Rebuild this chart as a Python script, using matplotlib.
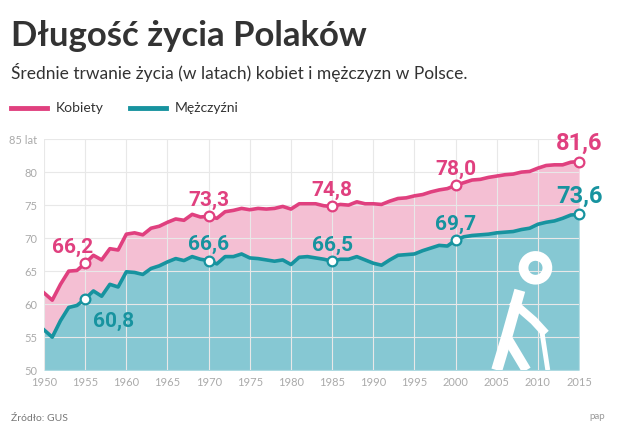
import matplotlib
matplotlib.use("Agg")
import matplotlib.pyplot as plt
from matplotlib.patches import Ellipse

years = list(range(1950, 2016))
women = [61.7, 60.6, 63.0, 65.0, 65.1, 66.2, 67.4, 66.7, 68.4, 68.2,
         70.6, 70.8, 70.5, 71.5, 71.8, 72.4, 72.9, 72.7, 73.6, 73.2,
         73.3, 73.0, 74.0, 74.2, 74.5, 74.3, 74.5, 74.4, 74.5, 74.8,
         74.4, 75.2, 75.2, 75.2, 74.9, 74.8, 75.1, 75.0, 75.5, 75.2,
         75.2, 75.1, 75.6, 76.0, 76.1, 76.4, 76.6, 77.0, 77.3, 77.5,
         78.0, 78.4, 78.8, 78.9, 79.2, 79.4, 79.6, 79.7, 80.0, 80.1,
         80.6, 81.0, 81.1, 81.1, 81.5, 81.6]
men = [56.1, 55.0, 57.5, 59.5, 59.8, 60.8, 62.0, 61.2, 63.0, 62.6,
       64.9, 64.8, 64.5, 65.4, 65.8, 66.4, 66.9, 66.6, 67.2, 66.8,
       66.6, 66.1, 67.2, 67.2, 67.6, 67.0, 66.9, 66.7, 66.5, 66.7,
       66.0, 67.1, 67.2, 67.0, 66.8, 66.5, 66.8, 66.8, 67.2, 66.7,
       66.2, 65.9, 66.7, 67.4, 67.5, 67.6, 68.1, 68.5, 68.9, 68.8,
       69.7, 70.2, 70.4, 70.5, 70.6, 70.8, 70.9, 71.0, 71.3, 71.5,
       72.1, 72.4, 72.6, 73.0, 73.5, 73.6]
marked_years = [1955, 1970, 1985, 2000, 2015]
yticks = [50, 55, 60, 65, 70, 75, 80, 85]
xticks = list(range(1950, 2016, 5))

PINK, PINK_FILL = "#e0407f", "#f4bfd3"
TEAL, TEAL_FILL = "#17939f", "#86c8d3"
GRAY = "#aaaaaa"

plt.rcParams["font.family"] = ["Lato", "DejaVu Sans"]
fig = plt.figure(figsize=(6.2, 4.36), dpi=100)
ax = fig.add_axes([0.071, 0.151, 0.863, 0.530])

ax.fill_between(years, men, women, color=PINK_FILL, lw=0, zorder=1)
ax.fill_between(years, 50, men, color=TEAL_FILL, lw=0, zorder=1)
ax.plot(years, women, color=PINK, lw=2.6, zorder=3)
ax.plot(years, men, color=TEAL, lw=2.6, zorder=3)

ax.set_xlim(1950, 2015)
ax.set_ylim(50, 85)
ax.set_xticks(xticks)
ax.set_yticks(yticks)
ax.set_yticklabels([str(v) if v != 85 else "85 lat" for v in yticks])
ax.grid(True, color="#e8e8e8", lw=0.8, zorder=0)
ax.set_axisbelow(False)
for s in ax.spines.values():
    s.set_visible(False)
ax.tick_params(length=0, labelsize=8, labelcolor=GRAY, pad=5)
ax.set_facecolor("white")

offsets_w = {1955: (-1.5, 2.4), 1970: (0, 2.4), 1985: (0, 2.4), 2000: (0, 2.4), 2015: (0, 2.7)}
offsets_m = {1955: (3.4, -3.4), 1970: (0, 2.4), 1985: (0, 2.4), 2000: (0, 2.4), 2015: (0, 2.7)}
for yr in marked_years:
    i = years.index(yr)
    for vals, col, offs in ((women, PINK, offsets_w), (men, TEAL, offsets_m)):
        ax.plot(yr, vals[i], "o", ms=7, mfc="white", mec=col, mew=1.6, zorder=5, clip_on=False)
        dx, dy = offs[yr]
        ax.text(yr + dx, vals[i] + dy, f"{vals[i]:.1f}".replace(".", ","), color=col,
                fontsize=17 if yr == 2015 else 15, fontweight="bold", ha="center",
                va="center", family=["Roboto", "DejaVu Sans"], fontstretch="condensed")

# simple elderly figure icon
ax.add_patch(Ellipse((2009.7, 65.5), 2.9, 3.6, fill=False, ec="white", lw=7, zorder=4))
ax.plot([2007.8, 2006.2, 2005.0], [62.1, 55.0, 50.0], color="white", lw=8,
        solid_capstyle="butt", solid_joinstyle="round", zorder=4)
ax.plot([2006.2, 2008.6], [55.0, 50.0], color="white", lw=7, solid_capstyle="butt", zorder=4)
ax.plot([2007.2, 2009.5, 2010.6], [60.0, 57.5, 56.0], color="white", lw=6,
        solid_joinstyle="round", zorder=4)
ax.plot([2010.4, 2011.2], [56.5, 50.0], color="white", lw=3.5, solid_capstyle="butt", zorder=4)

fig.text(0.018, 0.895, "Długość życia Polaków", fontsize=25, fontweight="bold", color="#333333")
fig.text(0.018, 0.818, "Średnie trwanie życia (w latach) kobiet i mężczyzn w Polsce.",
         fontsize=12.5, color="#333333")
fig.lines.append(plt.Line2D([0.018, 0.075], [0.752, 0.752], color=PINK, lw=3.5, transform=fig.transFigure))
fig.text(0.09, 0.752, "Kobiety", fontsize=10, color="#333333", va="center")
fig.lines.append(plt.Line2D([0.21, 0.267], [0.752, 0.752], color=TEAL, lw=3.5, transform=fig.transFigure))
fig.text(0.282, 0.752, "Mężczyźni", fontsize=10, color="#333333", va="center")
fig.text(0.018, 0.035, "Źródło: GUS", fontsize=7.5, color="#777777")
fig.text(0.975, 0.04, "pap", fontsize=7, color="#999999", ha="right")

fig.savefig("out.png", dpi=100)
